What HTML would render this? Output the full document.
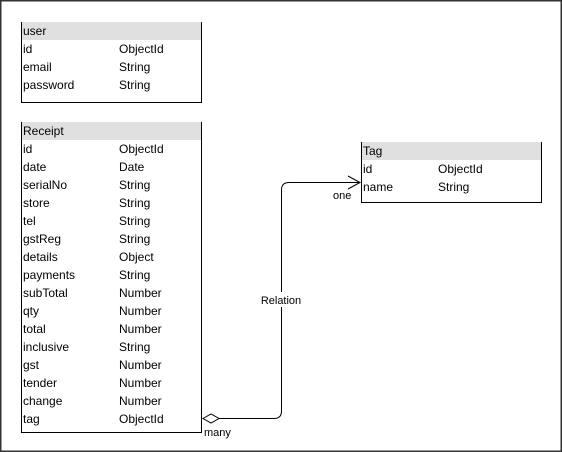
<!DOCTYPE html>
<html><head><meta charset="utf-8"><style>
html,body{margin:0;padding:0;background:#fff}
svg{display:block}
text{font-family:"Liberation Sans",sans-serif;font-size:12px;fill:#000}
</style></head><body>
<svg width="562" height="452" viewBox="0 0 562 452" xmlns="http://www.w3.org/2000/svg">
<rect x="0.75" y="0.75" width="560.5" height="450.5" fill="#fff" stroke="#333" stroke-width="1.5"/>

<!-- user -->
<rect x="21" y="22" width="180" height="18" fill="#e0e0e0"/>
<path d="M21.5 22 V102.5 H201.5 V22" fill="none" stroke="#000"/>
<text x="23" y="35">user</text>
<text x="23" y="53">id</text><text x="119" y="53">ObjectId</text>
<text x="23" y="71">email</text><text x="119" y="71">String</text>
<text x="23" y="89">password</text><text x="119" y="89">String</text>

<!-- Receipt -->
<rect x="21" y="122" width="180" height="18" fill="#e0e0e0"/>
<path d="M21.5 122 V432.5 H201.5 V122" fill="none" stroke="#000"/>
<text x="23" y="135">Receipt</text>
<text x="23" y="153">id</text><text x="119" y="153">ObjectId</text>
<text x="23" y="171">date</text><text x="119" y="171">Date</text>
<text x="23" y="189">serialNo</text><text x="119" y="189">String</text>
<text x="23" y="207">store</text><text x="119" y="207">String</text>
<text x="23" y="225">tel</text><text x="119" y="225">String</text>
<text x="23" y="243">gstReg</text><text x="119" y="243">String</text>
<text x="23" y="261">details</text><text x="119" y="261">Object</text>
<text x="23" y="279">payments</text><text x="119" y="279">String</text>
<text x="23" y="297">subTotal</text><text x="119" y="297">Number</text>
<text x="23" y="315">qty</text><text x="119" y="315">Number</text>
<text x="23" y="333">total</text><text x="119" y="333">Number</text>
<text x="23" y="351">inclusive</text><text x="119" y="351">String</text>
<text x="23" y="369">gst</text><text x="119" y="369">Number</text>
<text x="23" y="387">tender</text><text x="119" y="387">Number</text>
<text x="23" y="405">change</text><text x="119" y="405">Number</text>
<text x="23" y="423">tag</text><text x="119" y="423">ObjectId</text>

<!-- Tag -->
<rect x="361" y="142" width="180" height="18" fill="#e0e0e0"/>
<path d="M361.5 142 V202.5 H541.5 V142" fill="none" stroke="#000"/>
<text x="363" y="155">Tag</text>
<text x="363" y="173">id</text><text x="438" y="173">ObjectId</text>
<text x="363" y="191">name</text><text x="438" y="191">String</text>

<!-- connector -->
<path d="M219 418.5 H274 Q281.5 418.5 281.5 411 V190 Q281.5 182.5 289 182.5 H360" fill="none" stroke="#000"/>
<path d="M348 176 L360 182.5 L348 189" fill="none" stroke="#000"/>
<path d="M203 418.5 L211 414 L219 418.5 L211 423 Z" fill="#fff" stroke="#000"/>
<rect x="258" y="292" width="46" height="15" fill="#fff"/>
<text x="281" y="304" text-anchor="middle" style="font-size:11px">Relation</text>
<text x="333" y="199" style="font-size:11px">one</text>
<text x="204" y="436" style="font-size:11px">many</text>
</svg>
</body></html>
